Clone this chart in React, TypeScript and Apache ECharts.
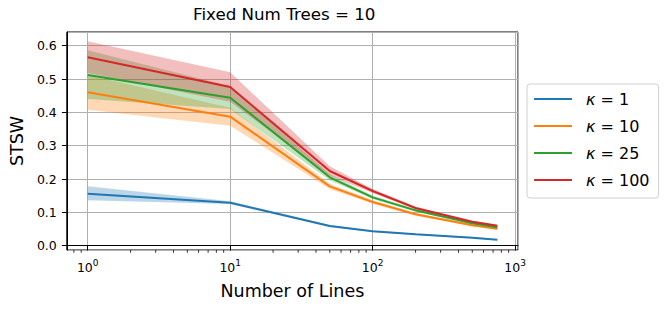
import React, { useEffect, useRef } from 'react';
import * as echarts from 'echarts';

const xValues = [1, 10, 50, 100, 200, 500, 750];
const seriesNames = ['κ = 1', 'κ = 10', 'κ = 25', 'κ = 100'];

const k1Mean = [0.156, 0.129, 0.059, 0.043, 0.034, 0.024, 0.018];
const k1Lo = [0.136, 0.125, 0.056, 0.041, 0.032, 0.022, 0.016];
const k1Hi = [0.178, 0.133, 0.062, 0.045, 0.036, 0.026, 0.020];

const k10Mean = [0.460, 0.387, 0.178, 0.131, 0.094, 0.061, 0.051];
const k10Lo = [0.408, 0.360, 0.170, 0.126, 0.090, 0.058, 0.048];
const k10Hi = [0.512, 0.414, 0.186, 0.136, 0.098, 0.064, 0.054];

const k25Mean = [0.512, 0.444, 0.205, 0.145, 0.106, 0.067, 0.055];
const k25Lo = [0.440, 0.410, 0.196, 0.140, 0.102, 0.064, 0.052];
const k25Hi = [0.586, 0.478, 0.214, 0.150, 0.110, 0.070, 0.058];

const k100Mean = [0.565, 0.476, 0.224, 0.164, 0.113, 0.072, 0.060];
const k100Lo = [0.518, 0.432, 0.210, 0.158, 0.109, 0.069, 0.057];
const k100Hi = [0.613, 0.520, 0.238, 0.170, 0.117, 0.075, 0.063];

const means = [k1Mean, k10Mean, k25Mean, k100Mean];
const los = [k1Lo, k10Lo, k25Lo, k100Lo];
const his = [k1Hi, k10Hi, k25Hi, k100Hi];

const colors = ['#1f77b4', '#ff7f0e', '#2ca02c', '#d62728'];
const bandColors = ['rgba(31,119,180,0.3)', 'rgba(255,127,14,0.3)', 'rgba(44,160,44,0.3)', 'rgba(214,39,40,0.3)'];

const minorTickValues = [0.8, 0.9, 2, 3, 4, 5, 6, 7, 8, 9, 20, 30, 40, 50, 60, 70, 80, 90, 200, 300, 400, 500, 600, 700, 800, 900];

const X_MIN = 0.713;
const X_MAX = 1047;
const Y_MIN = -0.013;
const Y_MAX = 0.641;

const FONT = 'DejaVu Sans';

export default function App() {
  const ref = useRef<HTMLDivElement>(null);
  useEffect(() => {
    const chart = echarts.init(ref.current!, null, { renderer: 'svg' });
    const series: any[] = [];
    for (let k = 0; k < 4; k++) {
      series.push({
        name: seriesNames[k],
        type: 'line',
        data: xValues.map((x, i) => [x, means[k][i]]),
        showSymbol: false,
        lineStyle: { color: colors[k], width: 2 },
        itemStyle: { color: colors[k] },
        z: 3,
      });
      const lo = los[k];
      const hi = his[k];
      const fill = bandColors[k];
      series.push({
        name: 'band' + k,
        type: 'custom',
        data: xValues.map((x, i) => [x, lo[i], hi[i]]),
        encode: { x: 0, y: [1, 2] },
        z: 3,
        renderItem: (params: any, api: any) => {
          if (params.dataIndex !== 0) return null;
          const pts: number[][] = [];
          for (let i = 0; i < xValues.length; i++) pts.push(api.coord([xValues[i], hi[i]]));
          for (let i = xValues.length - 1; i >= 0; i--) pts.push(api.coord([xValues[i], lo[i]]));
          return { type: 'polygon', shape: { points: pts }, style: { fill, stroke: null } };
        },
      });
    }
    series.push({
      name: 'minorTicks',
      type: 'custom',
      clip: false,
      data: minorTickValues.map((v) => [v, Y_MIN]),
      encode: { x: 0, y: 1 },
      z: 5,
      renderItem: (params: any, api: any) => {
        const p = api.coord([api.value(0), Y_MIN]);
        const y = params.coordSys.y + params.coordSys.height;
        return {
          type: 'line',
          shape: { x1: p[0], y1: y, x2: p[0], y2: y + 2.8 },
          style: { stroke: '#000', lineWidth: 0.8 },
        };
      },
    });

    chart.setOption({
      animation: false,
      textStyle: { fontFamily: FONT, color: '#000' },
      title: {
        text: 'Fixed Num Trees = 10',
        left: 193,
        top: 5,
        padding: 0,
        textStyle: { fontFamily: FONT, fontSize: 16.7, fontWeight: 'normal', color: '#000' },
      },
      grid: {
        left: 65,
        top: 32,
        right: 152,
        bottom: 62,
        show: true,
        borderColor: '#000',
        borderWidth: 1,
        backgroundColor: 'transparent',
      },
      legend: {
        orient: 'vertical',
        left: 527,
        top: 84,
        data: seriesNames,
        icon: 'rect',
        itemWidth: 38,
        itemHeight: 2,
        itemGap: 7,
        padding: [5, 9, 8, 7],
        backgroundColor: '#fff',
        borderColor: '#d0d0d0',
        borderWidth: 1,
        borderRadius: 3,
        formatter: (name: string) => '{k|κ}{t|' + name.slice(1) + '}',
        textStyle: {
          fontFamily: FONT,
          fontSize: 16,
          color: '#000',
          lineHeight: 20,
          padding: [0, 0, 0, 9],
          rich: {
            k: { fontFamily: FONT, fontSize: 16, fontStyle: 'italic', color: '#000', lineHeight: 20 },
            t: { fontFamily: FONT, fontSize: 16, color: '#000', lineHeight: 20 },
          },
        },
      },
      xAxis: {
        type: 'log',
        logBase: 10,
        min: X_MIN,
        max: X_MAX,
        name: 'Number of Lines',
        nameLocation: 'middle',
        nameGap: 32,
        nameTextStyle: { fontFamily: FONT, fontSize: 17.5, color: '#000' },
        axisLine: { show: true, lineStyle: { color: '#000', width: 1 } },
        axisTick: { show: true, inside: false, length: 4.9, lineStyle: { color: '#000', width: 1 } },
        axisLabel: {
          margin: 8,
          showMinLabel: false,
          showMaxLabel: false,
          formatter: (val: number) => {
            const l = Math.log10(val);
            const e = Math.round(l);
            if (Math.abs(l - e) > 1e-6) return '';
            return '{b|10}{s|' + e + '}';
          },
          rich: {
            b: { fontFamily: FONT, fontSize: 12.5, color: '#000', lineHeight: 16, verticalAlign: 'bottom' },
            s: { fontFamily: FONT, fontSize: 9, color: '#000', lineHeight: 10, verticalAlign: 'top' },
          },
        },
        splitLine: { show: true, lineStyle: { color: '#b0b0b0', width: 1 } },
      },
      yAxis: {
        type: 'value',
        min: Y_MIN,
        max: Y_MAX,
        splitNumber: 6,
        name: 'STSW',
        nameLocation: 'middle',
        nameGap: 40,
        nameTextStyle: { fontFamily: FONT, fontSize: 17.5, color: '#000' },
        axisLine: { show: true, lineStyle: { color: '#000', width: 1 } },
        axisTick: { show: true, inside: false, length: 4.9, lineStyle: { color: '#000', width: 1 } },
        axisLabel: {
          margin: 10,
          fontFamily: FONT,
          fontSize: 12.5,
          color: '#000',
          showMinLabel: false,
          showMaxLabel: false,
          formatter: (v: number) => {
            const r = Math.round(v * 10) / 10;
            if (Math.abs(v - r) > 1e-6) return '';
            return r.toFixed(1);
          },
        },
        splitLine: { show: true, lineStyle: { color: '#b0b0b0', width: 1 } },
      },
      series,
    });
    return () => chart.dispose();
  }, []);
  return <div ref={ref} style={{ position: 'absolute', left: 0, top: 0, width: 670, height: 312 }} />;
}
